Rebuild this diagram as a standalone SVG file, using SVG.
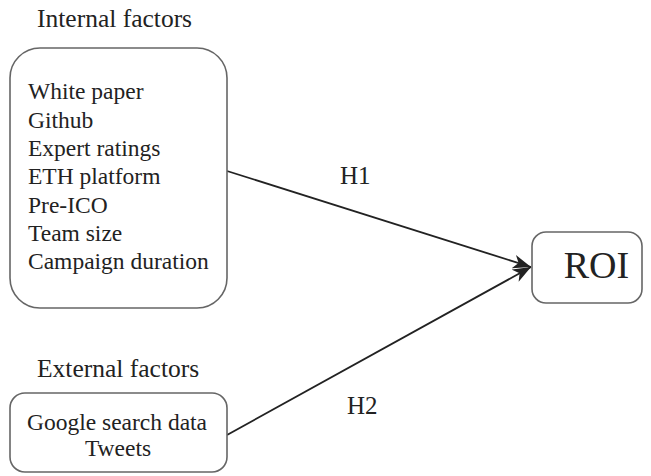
<svg xmlns="http://www.w3.org/2000/svg" width="651" height="476" viewBox="0 0 651 476">
<style>
.box{fill:#fff;stroke:#666;stroke-width:1.6}
.t{font-family:"Liberation Serif","Times New Roman",serif;fill:#222}
.title{font-size:25.5px}
.item{font-size:23.5px}
.lbl{font-size:25px}
.edge{stroke:#222;stroke-width:1.8;fill:none}
</style>
<defs>
<marker id="arr" markerUnits="userSpaceOnUse" markerWidth="20" markerHeight="16" viewBox="0 0 20 16" refX="18" refY="8" orient="auto">
<path d="M0,1 L18,8 L0,15 L5,8 Z" fill="#222"/>
</marker>
</defs>
<rect width="651" height="476" fill="#fff"/>
<g id="connectors">
<line class="edge" x1="227" y1="171" x2="531" y2="267" marker-end="url(#arr)"/>
<line class="edge" x1="227" y1="435" x2="531" y2="267" marker-end="url(#arr)"/>
<text class="t lbl" x="340" y="184">H1</text>
<text class="t lbl" x="347" y="414">H2</text>
</g>
<g id="internal">
<text class="t title" x="37" y="27">Internal factors</text>
<rect class="box" x="10" y="48" width="217" height="260" rx="30" ry="30"/>
<text class="t item" x="28" y="99">White paper</text>
<text class="t item" x="28" y="128">Github</text>
<text class="t item" x="28" y="156">Expert ratings</text>
<text class="t item" x="28" y="184">ETH platform</text>
<text class="t item" x="28" y="213">Pre-ICO</text>
<text class="t item" x="28" y="241">Team size</text>
<text class="t item" x="28" y="269">Campaign duration</text>
</g>
<g id="external">
<text class="t title" x="37" y="377">External factors</text>
<rect class="box" x="10" y="393" width="217" height="79" rx="15" ry="15"/>
<text class="t item" x="117" y="430" text-anchor="middle">Google search data</text>
<text class="t item" x="118" y="456" text-anchor="middle">Tweets</text>
</g>
<g id="roi">
<rect class="box" x="532" y="232" width="110" height="71" rx="14" ry="14"/>
<text class="t" x="596.5" y="278" font-size="38" text-anchor="middle">ROI</text>
</g>
</svg>
